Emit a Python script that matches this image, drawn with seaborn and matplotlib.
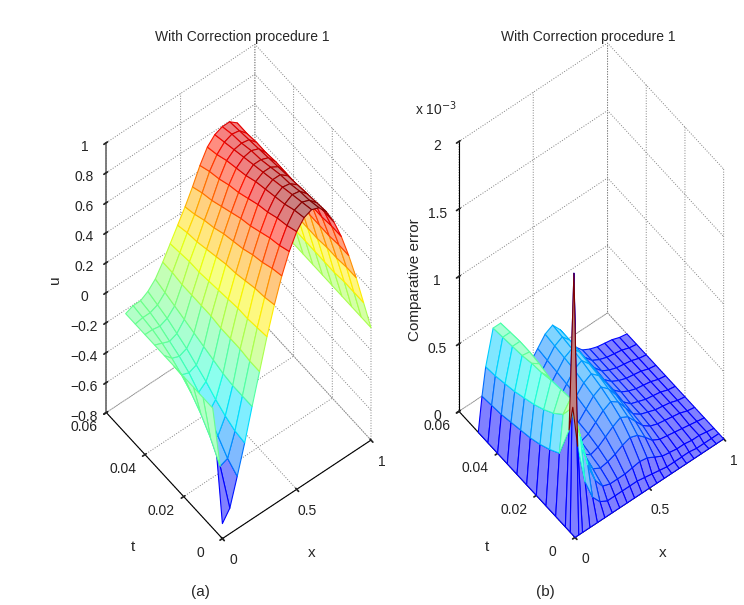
import numpy as np
import matplotlib
matplotlib.use("Agg")
import matplotlib.pyplot as plt
import seaborn as sns

# ---- data ----
# (a) solution u on a coarse (t, x) grid
x_u = [0.00, 0.05, 0.10, 0.15, 0.20, 0.25, 0.30, 0.35, 0.40, 0.45, 0.50,
       0.55, 0.60, 0.65, 0.70, 0.75, 0.80, 0.85, 0.90, 0.95, 1.00]
t_u = [0.000, 0.005, 0.010, 0.015, 0.020, 0.025, 0.030, 0.035, 0.040, 0.045, 0.050]
u_rows = [
    [-0.70, -0.63, -0.45, -0.26, -0.05, 0.15, 0.35, 0.53, 0.69, 0.82, 0.92, 0.98, 1.00, 0.98, 0.92, 0.82, 0.69, 0.53, 0.35, 0.15, -0.05],
    [0.00, -0.42, -0.40, -0.25, -0.05, 0.15, 0.34, 0.51, 0.67, 0.79, 0.89, 0.96, 0.98, 0.96, 0.91, 0.82, 0.69, 0.53, 0.35, 0.15, -0.05],
    [0.00, -0.30, -0.32, -0.22, -0.05, 0.16, 0.33, 0.50, 0.64, 0.77, 0.87, 0.93, 0.96, 0.95, 0.90, 0.81, 0.68, 0.52, 0.34, 0.15, -0.05],
    [0.00, -0.21, -0.24, -0.18, -0.04, 0.16, 0.33, 0.48, 0.62, 0.74, 0.84, 0.91, 0.94, 0.93, 0.89, 0.81, 0.68, 0.52, 0.34, 0.14, -0.05],
    [0.00, -0.14, -0.17, -0.13, -0.02, 0.16, 0.32, 0.46, 0.59, 0.71, 0.82, 0.89, 0.92, 0.92, 0.88, 0.80, 0.68, 0.52, 0.33, 0.14, -0.05],
    [0.00, -0.09, -0.11, -0.09, 0.00, 0.17, 0.31, 0.45, 0.57, 0.69, 0.79, 0.87, 0.90, 0.90, 0.87, 0.80, 0.68, 0.52, 0.33, 0.14, -0.05],
    [0.00, -0.05, -0.07, -0.05, 0.02, 0.17, 0.30, 0.43, 0.55, 0.66, 0.76, 0.84, 0.88, 0.88, 0.86, 0.80, 0.67, 0.51, 0.33, 0.14, -0.05],
    [0.00, -0.02, -0.04, -0.02, 0.04, 0.17, 0.29, 0.41, 0.52, 0.63, 0.74, 0.82, 0.86, 0.87, 0.85, 0.79, 0.67, 0.51, 0.32, 0.14, -0.05],
    [0.00, 0.00, -0.01, 0.01, 0.06, 0.17, 0.29, 0.39, 0.50, 0.60, 0.71, 0.80, 0.84, 0.85, 0.84, 0.79, 0.67, 0.51, 0.32, 0.13, -0.05],
    [0.00, 0.01, 0.01, 0.03, 0.08, 0.18, 0.28, 0.38, 0.47, 0.58, 0.69, 0.77, 0.82, 0.84, 0.83, 0.78, 0.66, 0.50, 0.31, 0.13, -0.05],
    [0.00, 0.02, 0.02, 0.05, 0.10, 0.18, 0.27, 0.36, 0.45, 0.55, 0.66, 0.75, 0.80, 0.82, 0.82, 0.78, 0.66, 0.50, 0.31, 0.13, -0.05],
]

# (b) comparative error, in units of 1e-3
x_e = [0.000, 0.025, 0.05, 0.10, 0.15, 0.20, 0.25, 0.30, 0.35, 0.40, 0.45,
       0.50, 0.55, 0.60, 0.65, 0.70, 0.75, 0.80, 0.85, 0.90, 0.95, 1.00]
t_e = [0.0, 0.0025, 0.005, 0.010, 0.015, 0.020, 0.025, 0.030, 0.035, 0.040, 0.045, 0.050]
err_rows = [
    [0.00] * 22,
    [0, 1.90, 0.60, 0.30, 0.15, 0.08, 0.05, 0.05, 0.05, 0.05, 0.05, 0.04, 0.03, 0.02, 0.01, 0.01, 0.01, 0.01, 0.00, 0.00, 0.00, 0],
    [0, 0.70, 0.85, 0.60, 0.35, 0.20, 0.12, 0.10, 0.10, 0.10, 0.11, 0.12, 0.11, 0.08, 0.05, 0.04, 0.03, 0.03, 0.02, 0.02, 0.01, 0],
    [0, 0.45, 0.72, 0.80, 0.55, 0.30, 0.17, 0.14, 0.15, 0.17, 0.20, 0.22, 0.20, 0.15, 0.09, 0.06, 0.05, 0.04, 0.03, 0.02, 0.01, 0],
    [0, 0.40, 0.65, 0.79, 0.62, 0.36, 0.20, 0.16, 0.18, 0.22, 0.26, 0.29, 0.26, 0.19, 0.12, 0.08, 0.06, 0.05, 0.04, 0.03, 0.01, 0],
    [0, 0.36, 0.60, 0.78, 0.66, 0.41, 0.23, 0.18, 0.20, 0.25, 0.30, 0.33, 0.29, 0.21, 0.13, 0.09, 0.07, 0.05, 0.04, 0.03, 0.01, 0],
    [0, 0.33, 0.56, 0.76, 0.69, 0.45, 0.26, 0.19, 0.21, 0.27, 0.33, 0.36, 0.31, 0.23, 0.14, 0.09, 0.07, 0.05, 0.04, 0.03, 0.01, 0],
    [0, 0.31, 0.53, 0.75, 0.71, 0.49, 0.29, 0.21, 0.22, 0.29, 0.35, 0.38, 0.33, 0.24, 0.15, 0.10, 0.07, 0.05, 0.04, 0.03, 0.01, 0],
    [0, 0.29, 0.50, 0.73, 0.72, 0.52, 0.31, 0.22, 0.23, 0.30, 0.37, 0.40, 0.34, 0.25, 0.15, 0.10, 0.07, 0.05, 0.04, 0.03, 0.01, 0],
    [0, 0.27, 0.48, 0.72, 0.72, 0.54, 0.33, 0.23, 0.24, 0.31, 0.38, 0.41, 0.35, 0.25, 0.16, 0.10, 0.07, 0.05, 0.04, 0.03, 0.01, 0],
    [0, 0.26, 0.46, 0.71, 0.71, 0.55, 0.34, 0.24, 0.25, 0.32, 0.39, 0.42, 0.36, 0.26, 0.16, 0.10, 0.07, 0.05, 0.04, 0.03, 0.01, 0],
    [0, 0.25, 0.45, 0.70, 0.70, 0.56, 0.35, 0.25, 0.26, 0.33, 0.40, 0.43, 0.36, 0.26, 0.16, 0.10, 0.07, 0.05, 0.04, 0.03, 0.01, 0],
]

u_ticks = [-0.8, -0.6, -0.4, -0.2, 0, 0.2, 0.4, 0.6, 0.8, 1]
u_tick_labels = ["\u22120.8", "\u22120.6", "\u22120.4", "\u22120.2", "0", "0.2", "0.4", "0.6", "0.8", "1"]
e_ticks = [0, 0.5, 1, 1.5, 2]
e_tick_labels = ["0", "0.5", "1", "1.5", "2"]
t_ticks = [0, 0.02, 0.04, 0.06]
t_tick_labels = ["0", "0.02", "0.04", "0.06"]
x_ticks = [0, 0.5, 1]
x_tick_labels = ["0", "0.5", "1"]
title = "With Correction procedure 1"

sns.set_theme(style="white")
plt.rcParams["font.family"] = ["Liberation Sans", "DejaVu Sans"]
plt.rcParams["axes.unicode_minus"] = True
jet = matplotlib.colormaps["jet"]


def draw_mesh(ax, xs, ts, rows, vmin, vmax):
    # MATLAB-style mesh: each cell takes the colour of its first vertex
    X, T = np.meshgrid(xs, ts)
    Z = np.array(rows, dtype=float)
    level = (Z[:-1, :-1] - vmin) / (vmax - vmin)
    edge = jet(0.11 + 0.89 * level)
    fill = edge.copy()
    fill[..., :3] = edge[..., :3] * 0.5 + 0.5
    surf = ax.plot_surface(X, T, Z, facecolors=fill, rstride=1, cstride=1,
                           shade=False, linewidth=0.8, antialiased=True)
    surf.set_edgecolor(edge.reshape(-1, 4))
    surf.set_clip_on(False)
    return surf


def style_axes(ax, zlim, zticks, zlabels):
    ax.set_facecolor((1, 1, 1, 0))
    ax.set_proj_type("ortho")
    ax.view_init(elev=58, azim=-128)
    ax.set_box_aspect((1, 1, 2.7), zoom=1.5)
    ax.set_xlim(0, 1)
    ax.set_ylim(0, 0.06)
    ax.set_zlim(*zlim)
    ax.set_xticks(x_ticks)
    ax.set_yticks(t_ticks)
    ax.set_zticks(zticks)
    ax.set_zticklabels(zlabels)
    for axis in (ax.xaxis, ax.yaxis, ax.zaxis):
        axis.set_pane_color((1, 1, 1, 0))
        axis.pane.set_edgecolor((1, 1, 1, 0))
        axis._axinfo["grid"].update(color="0.5", linestyle=":", linewidth=0.7)
        axis.line.set_color("black")
        axis.line.set_linewidth(0.8)
        axis.label.set_visible(False)
    ax.xaxis.set_tick_params(label1On=False, label2On=False)
    ax.yaxis.set_tick_params(label1On=False, label2On=False)
    ax.tick_params(labelsize=10, colors="#222222")
    ax.grid(True)
    # tick labels of the floor axes, placed next to the ticks
    z0 = zlim[0]
    for tv, lab in zip(t_ticks, t_tick_labels):
        ax.text(-0.15, tv, z0, lab, ha="center", va="center", fontsize=10, color="#222222")
    for xv, lab in zip(x_ticks, x_tick_labels):
        ax.text(xv - 0.04, -0.0085, z0, lab, ha="center", va="center", fontsize=10, color="#222222")


fig = plt.figure(figsize=(7.44, 6.05), dpi=100)
ax1 = fig.add_axes([0.064, 0.07, 0.50, 0.88], projection="3d")
ax2 = fig.add_axes([0.538, 0.072, 0.50, 0.88], projection="3d")

draw_mesh(ax1, x_u, t_u, u_rows, -0.70, 1.00)
style_axes(ax1, (-0.8, 1.0), u_ticks, u_tick_labels)
ax1.zaxis.line.set_color("0.45")
ax1.zaxis.line.set_linewidth(1.3)

draw_mesh(ax2, x_e, t_e, err_rows, 0.0, 1.90)
style_axes(ax2, (0, 2), e_ticks, e_tick_labels)

# axis labels
fig.text(55 / 744, 1 - 280 / 605, "u", rotation=90, ha="center", va="center", fontsize=11)
fig.text(133 / 744, 1 - 547 / 605, "t", ha="center", va="center", fontsize=11)
fig.text(312 / 744, 1 - 553 / 605, "x", ha="center", va="center", fontsize=11)
fig.text(415 / 744, 1 - 280 / 605, "Comparative error", rotation=90, ha="center", va="center", fontsize=11)
fig.text(487 / 744, 1 - 547 / 605, "t", ha="center", va="center", fontsize=11)
fig.text(663 / 744, 1 - 553 / 605, "x", ha="center", va="center", fontsize=11)

fig.text(0.325, 0.932, title, ha="center", fontsize=10)
fig.text(0.79, 0.932, title, ha="center", fontsize=10)
fig.text(0.558, 0.81, r"x 10$^{-3}$", fontsize=10)
fig.text(0.27, 0.015, "(a)", ha="center", fontsize=11)
fig.text(0.733, 0.015, "(b)", ha="center", fontsize=11)

fig.savefig("out.png", dpi=100, facecolor="white")
